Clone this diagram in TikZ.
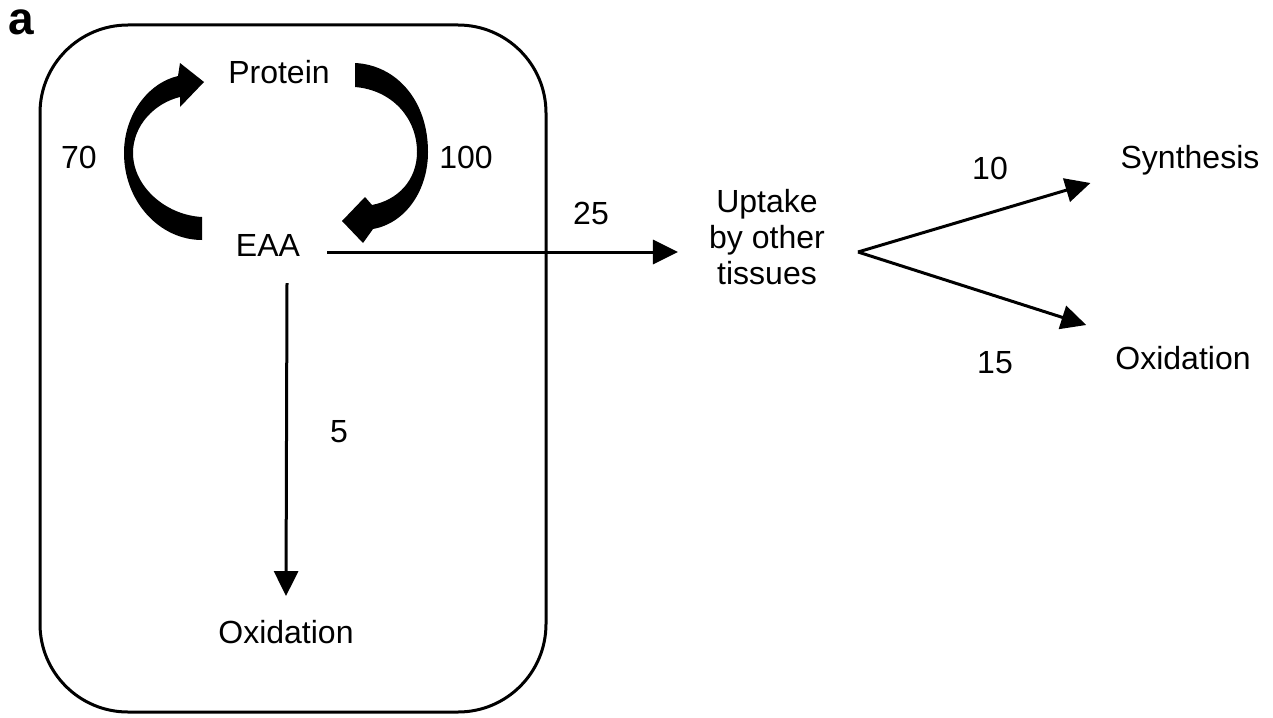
\documentclass[tikz,border=0pt]{standalone}
\usepackage{fontspec}
\setmainfont{Liberation Sans}
\usetikzlibrary{arrows.meta}
\begin{document}
\begin{tikzpicture}[x=1pt,y=-1pt,
  lbl/.style={inner sep=0pt, font=\fontsize{32}{36}\selectfont},
  flow/.style={line width=3pt, -{Triangle[length=25pt,width=24pt]}},
  cycarrow/.style={fill=black}]
\useasboundingbox (0,0) rectangle (1273,717);

% panel letter
\node[inner sep=0pt, font=\fontsize{46}{46}\selectfont\bfseries] (panel) at (21,22) {a};

% tissue compartment
\node[draw, line width=3pt, rounded corners=88pt, minimum width=506pt,
      minimum height=687pt, inner sep=0pt] (organ) at (293,368.5) {};

% pools
\node[lbl] (protein) at (279,72) {Protein};
\node[lbl] (eaa) at (268,245) {EAA};
\node[lbl] (oxin) at (286,632) {Oxidation};
\node[lbl, align=center] (uptake) at (767,237) {Uptake\\by other\\tissues};
\node[lbl] (synth) at (1190,160) {Synthesis};
\node[lbl] (oxout) at (1183,358) {Oxidation};

% flux values
\node[lbl] (f70) at (79,157) {70};
\node[lbl] (f100) at (466,157) {100};
\node[lbl] (f25) at (591,213) {25};
\node[lbl] (f5) at (339,432) {5};
\node[lbl] (f10) at (990,168) {10};
\node[lbl] (f15) at (995,363) {15};

% EAA -> protein (synthesis), tapered curved arrow
\fill[cycarrow] (202,217) -- (202,240)
  .. controls (160,240) and (124,202) .. (124,153)
  .. controls (124,115) and (148,83) .. (178,76)
  -- (180,63) -- (204,82) -- (180,107) -- (180,97)
  .. controls (155,103) and (133,125) .. (133,153)
  .. controls (133,186) and (165,215) .. (202,217) -- cycle;

% protein -> EAA (breakdown), tapered curved arrow
\fill[cycarrow] (355,63) -- (355,87)
  .. controls (392,90) and (417,118) .. (417,152)
  .. controls (417,180) and (398,200) .. (372,205)
  -- (365,197) -- (342,221) -- (363,243) -- (373,229)
  .. controls (406,223) and (428,190) .. (428,152)
  .. controls (428,100) and (396,65) .. (355,63) -- cycle;

% straight fluxes
\draw[flow] ([xshift=27pt,yshift=-7pt]eaa.east) -- ([xshift=-31pt,yshift=-15pt]uptake.west);
\draw[flow] ([xshift=19pt,yshift=-27pt]eaa.south) -- ([yshift=24pt]oxin.north);

\coordinate (fork) at (858,252);
\draw[flow] (fork) -- ([xshift=-30pt,yshift=-23pt]synth.west);
\draw[flow] (fork) -- ([xshift=-29pt,yshift=33pt]oxout.west);
\end{tikzpicture}
\end{document}
